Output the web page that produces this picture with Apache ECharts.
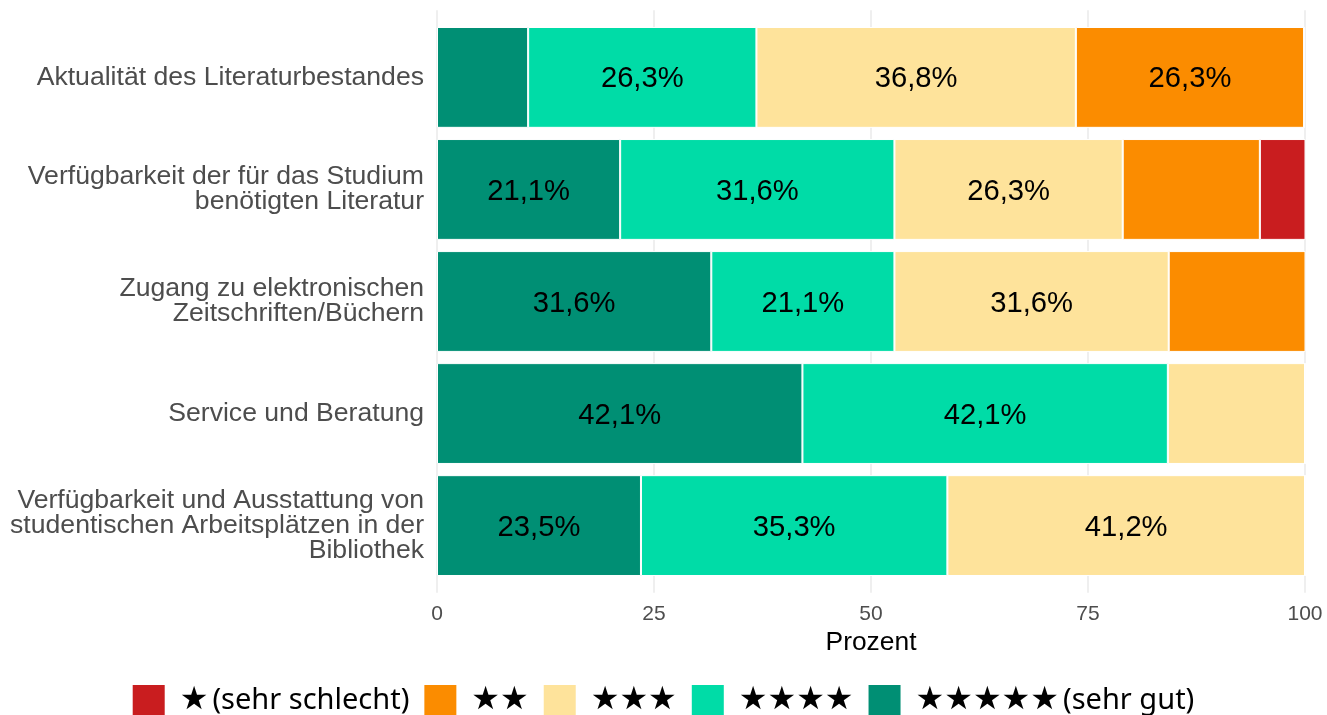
<!DOCTYPE html>
<html><head><meta charset="utf-8">
<script src="https://cdn.jsdelivr.net/npm/echarts@6/dist/echarts.min.js"></script>
<style>html,body{margin:0;padding:0;background:#fff}#c{width:1327px;height:715px}</style>
</head><body><div id="c"></div>
<script>
// Data (top to bottom)
const categories = [
  'Aktualität des Literaturbestandes',
  'Verfügbarkeit der für das Studium\nbenötigten Literatur',
  'Zugang zu elektronischen\nZeitschriften/Büchern',
  'Service und Beratung',
  'Verfügbarkeit und Ausstattung von\nstudentischen Arbeitsplätzen in der\nBibliothek'
];
const ratingNames = ['\u2605 (sehr schlecht)', '\u2605\u2605', '\u2605\u2605\u2605', '\u2605\u2605\u2605\u2605', '\u2605\u2605\u2605\u2605\u2605 (sehr gut)'];
const oneStar   = [0, 5.3, 0, 0, 0];
const twoStars  = [26.3, 15.8, 15.8, 0, 0];
const threeStars= [36.8, 26.3, 31.6, 15.8, 41.2];
const fourStars = [26.3, 31.6, 21.1, 42.1, 35.3];
const fiveStars = [10.5, 21.1, 31.6, 42.1, 23.5];
const xTicks = [0, 25, 50, 75, 100];
const axisTitle = 'Prozent';

const colors = ['#c91d1f', '#fb8c00', '#fee39b', '#00dca7', '#008f74'];
const seriesValues = [oneStar, twoStars, threeStars, fourStars, fiveStars];

const chart = echarts.init(document.getElementById('c'), null, {renderer: 'canvas'});

// stacking order from left: 5 stars, 4, 3, 2, 1
const barSeries = [];
for (let k = 4; k >= 0; k--) {
  barSeries.push({
    name: ratingNames[k],
    type: 'bar',
    stack: 'total',
    xAxisIndex: 0, yAxisIndex: 0,
    barCategoryGap: '10%',
    itemStyle: {color: colors[k], borderColor: '#ffffff', borderWidth: 1},
    label: {
      show: true,
      position: 'inside',
      offset: [0, 2],
      color: '#000',
      fontFamily: 'Liberation Sans, Arial, sans-serif',
      fontSize: 29.2,
      formatter: p => p.value >= 20 ? p.value.toFixed(1).replace('.', ',') + '%' : ''
    },
    emphasis: {disabled: true},
    data: seriesValues[k]
  });
}

function legendFormatter(name) {
  const m = name.match(/^(\u2605+)\s*(.*)$/);
  const stars = '{s|' + m[1] + '}';
  return m[2] ? stars + '{t|' + m[2] + '}' : stars;
}

const option = {
  backgroundColor: '#ffffff',
  animation: false,
  legend: {
    data: ratingNames,
    left: 'center',
    top: 685,
    padding: 0,
    itemWidth: 32,
    itemHeight: 32,
    itemGap: 15,
    icon: 'rect',
    itemStyle: {borderWidth: 0},
    formatter: legendFormatter,
    textStyle: {
      fontFamily: 'Noto Sans, DejaVu Sans, sans-serif',
      fontSize: 29,
      color: '#000',
      lineHeight: 32,
      padding: [0, 0, 0, 10],
      rich: {
        s: {fontFamily: 'DejaVu Sans, sans-serif', fontSize: 32, color: '#000', lineHeight: 32},
        t: {fontFamily: 'Noto Sans, sans-serif', fontSize: 29, color: '#000', padding: [0, 0, 0, 4], lineHeight: 32}
      }
    }
  },
  grid: [
    {left: 437, right: 22, top: 21.4, bottom: 133.4, containLabel: false},
    {left: 437, right: 22, top: 10.2, bottom: 122.2, containLabel: false}
  ],
  xAxis: [
    {type: 'value', gridIndex: 0, min: 0, max: 100, show: false},
    {
      type: 'value', gridIndex: 1, min: 0, max: 100, interval: 25,
      axisLine: {show: false}, axisTick: {show: false},
      splitLine: {show: true, lineStyle: {color: '#ebebeb', width: 1.6}},
      axisLabel: {
        color: '#4d4d4d', fontSize: 21, margin: 11,
        fontFamily: 'Liberation Sans, Arial, sans-serif',
        formatter: v => xTicks.includes(v) ? String(v) : ''
      },
      name: axisTitle, nameLocation: 'middle', nameGap: 35,
      nameTextStyle: {color: '#000', fontSize: 26.4, fontFamily: 'Liberation Sans, Arial, sans-serif'}
    }
  ],
  yAxis: [
    {
      type: 'category', gridIndex: 0, data: categories, inverse: true,
      axisLine: {show: false}, axisTick: {show: false}, splitLine: {show: false},
      axisLabel: {
        color: '#4d4d4d', fontSize: 26.6, lineHeight: 25, margin: 13, align: 'right',
        fontFamily: 'Liberation Sans, Arial, sans-serif'
      }
    },
    {type: 'value', gridIndex: 1, min: 0, max: 1, show: false}
  ],
  series: barSeries.concat([
    {type: 'scatter', xAxisIndex: 1, yAxisIndex: 1, data: [], silent: true}
  ])
};
chart.setOption(option);
</script>
</body></html>
